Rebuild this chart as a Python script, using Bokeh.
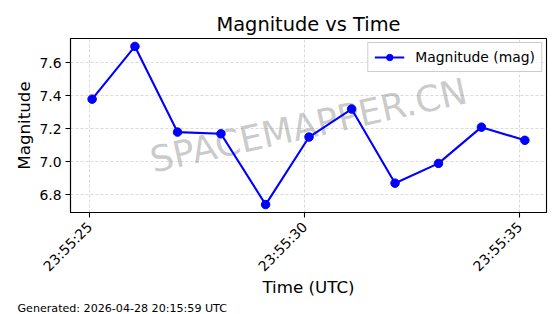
import math
from datetime import datetime, timedelta
from bokeh.plotting import figure
from bokeh.models import (ColumnDataSource, Range1d, FixedTicker, DatetimeTickFormatter,
                          PrintfTickFormatter, Label, Legend, LegendItem, Title)
from bokeh.embed import file_html
from bokeh.resources import INLINE

# ---- data ----
base_day = "2026-04-27"
time_seconds = [25.054, 26.05, 27.04, 28.05, 29.09, 30.10, 31.09, 32.10, 33.11, 34.11, 35.12]  # seconds past 23:55
magnitude = [7.38, 7.70, 7.18, 7.17, 6.74, 7.15, 7.32, 6.87, 6.99, 7.21, 7.13]
x_tick_seconds = [25, 30, 35]
y_ticks = [6.8, 7.0, 7.2, 7.4, 7.6]
title_text = "Magnitude vs Time"
x_label = "Time (UTC)"
y_label = "Magnitude"
legend_label = "Magnitude (mag)"
watermark = "SPACEMAPPER.CN"
footer = "Generated: 2026-04-28 20:15:59 UTC"

t0 = datetime.strptime(base_day + " 23:55:00", "%Y-%m-%d %H:%M:%S")
times = [t0 + timedelta(seconds=s) for s in time_seconds]
epoch = datetime(1970, 1, 1)
def ms(s):
    return ((t0 + timedelta(seconds=s)) - epoch).total_seconds() * 1000.0

span = time_seconds[-1] - time_seconds[0]
x_lo = ms(time_seconds[0] - 0.05 * span)
x_hi = ms(time_seconds[-1] + 0.05 * span)
yspan = max(magnitude) - min(magnitude)
y_lo = min(magnitude) - 0.05 * yspan
y_hi = max(magnitude) + 0.05 * yspan

src = ColumnDataSource(dict(t=times, m=magnitude))

FONT = "DejaVu Sans"
p = figure(width=560, height=314, x_axis_type="datetime", output_backend="svg",
           toolbar_location=None, x_range=Range1d(x_lo, x_hi), y_range=Range1d(y_lo, y_hi),
           min_border_left=70, min_border_right=14, min_border_top=38, min_border_bottom=102)
p.background_fill_color = "white"
p.border_fill_color = "white"
p.outline_line_color = "black"
p.outline_line_width = 1.1

p.title.text = title_text
p.title.align = "center"
p.title.text_font = FONT
p.title.text_font_size = "19.4px"
p.title.text_font_style = "normal"
p.title.text_color = "black"
p.title.standoff = 5

# watermark
wm = Label(x=(x_lo + x_hi) / 2, y=(y_lo + y_hi) / 2, text=watermark, angle=12.5, angle_units="deg",
           text_align="center", text_baseline="middle", text_font=FONT, text_font_size="36px",
           text_color="gray", text_alpha=0.42, level="underlay")
p.add_layout(wm)

line = p.line("t", "m", source=src, line_color="blue", line_width=2.1)
pts = p.scatter("t", "m", source=src, size=8.5, fill_color="blue", line_color="blue")

for ax in (p.xaxis[0], p.yaxis[0]):
    ax.axis_line_color = "black"
    ax.axis_line_width = 1.1
    ax.major_tick_out = 5
    ax.major_tick_in = 0
    ax.major_tick_line_width = 1.1
    ax.minor_tick_line_color = None
    ax.major_label_text_font = FONT
    ax.major_label_text_font_size = "13.9px"
    ax.major_label_text_color = "black"
    ax.axis_label_text_font = FONT
    ax.axis_label_text_font_size = "16.7px"
    ax.axis_label_text_font_style = "normal"
    ax.axis_label_text_color = "black"

p.xaxis.ticker = FixedTicker(ticks=[ms(s) for s in x_tick_seconds])
p.xaxis.formatter = DatetimeTickFormatter(seconds="%H:%M:%S", milliseconds="%H:%M:%S",
                                          minsec="%H:%M:%S", minutes="%H:%M:%S")
p.xaxis.major_label_orientation = math.pi / 4
p.xaxis.major_label_standoff = 7
p.xaxis.axis_label = x_label
p.xaxis.axis_label_standoff = -6
p.yaxis.ticker = FixedTicker(ticks=y_ticks)
p.yaxis.formatter = PrintfTickFormatter(format="%.1f")
p.yaxis.axis_label = y_label
p.yaxis.major_label_standoff = 4
p.yaxis.axis_label_standoff = 2

for g in (p.xgrid[0], p.ygrid[0]):
    g.grid_line_color = "#b0b0b0"
    g.grid_line_alpha = 0.6
    g.grid_line_dash = "3 2"
    g.grid_line_width = 0.8
p.xgrid.ticker = p.xaxis.ticker
p.ygrid.ticker = p.yaxis.ticker

legend = Legend(items=[LegendItem(label=legend_label, renderers=[line, pts])],
                location="top_right", label_text_font=FONT, label_text_font_size="13.9px",
                label_text_color="black",
                border_line_color="#cccccc", border_line_alpha=1.0, background_fill_alpha=0.8,
                padding=6, margin=4, glyph_width=30, glyph_height=16, label_height=16,
                label_standoff=11, spacing=0)
p.add_layout(legend)

foot = Title(text=footer, align="left", offset=-53, standoff=0, text_font=FONT,
             text_font_size="11.1px", text_font_style="normal", text_color="black")
p.add_layout(foot, "below")

open("out.html", "w").write(file_html(p, INLINE))
